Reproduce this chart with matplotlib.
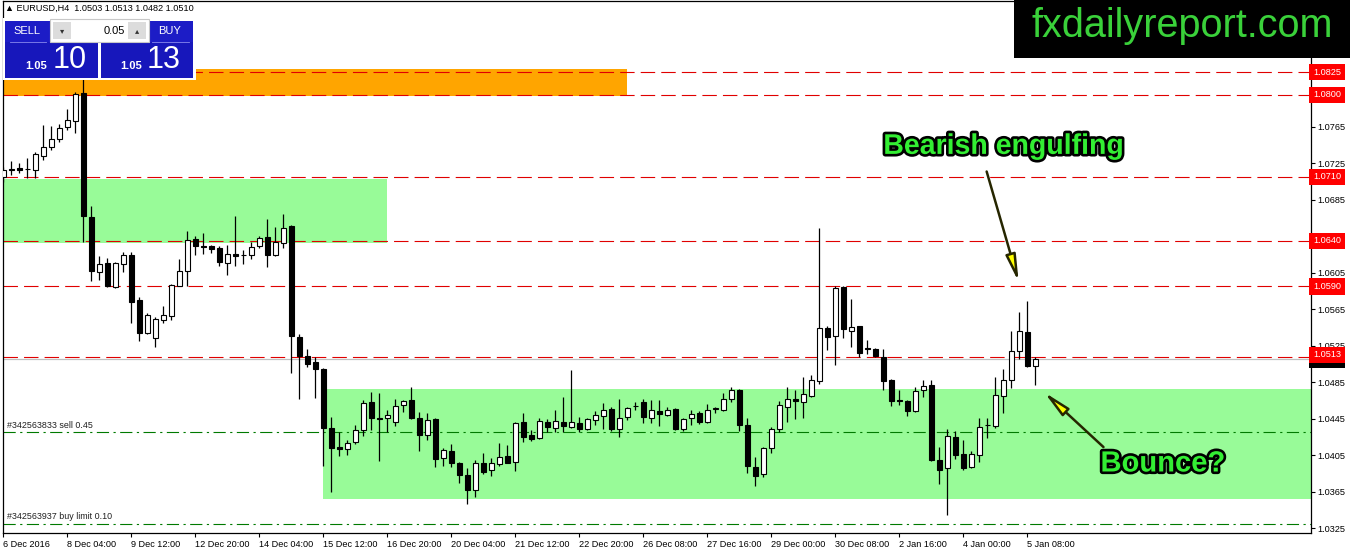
import matplotlib
matplotlib.use("Agg")
import matplotlib.pyplot as plt
import matplotlib.patheffects as pe
from matplotlib.patches import Rectangle

# %% data: EURUSD H4 candles (open, high, low, close)
opens = [1.0710, 1.0719, 1.0720, 1.0719, 1.0718, 1.0733, 1.0743, 1.0752, 1.0765, 1.0771,
         1.0802, 1.0666, 1.0606, 1.0616, 1.0589, 1.0615, 1.0624, 1.0575, 1.0539, 1.0533,
         1.0553, 1.0558, 1.0591, 1.0607, 1.0642, 1.0634, 1.0634, 1.0632, 1.0616, 1.0626,
         1.0625, 1.0624, 1.0634, 1.0644, 1.0624, 1.0638, 1.0656, 1.0535, 1.0514, 1.0507,
         1.0500, 1.0435, 1.0414, 1.0412, 1.0419, 1.0433, 1.0463, 1.0446, 1.0446, 1.0441,
         1.0460, 1.0466, 1.0446, 1.0427, 1.0445, 1.0402, 1.0410, 1.0396, 1.0383, 1.0367,
         1.0396, 1.0389, 1.0395, 1.0404, 1.0398, 1.0441, 1.0427, 1.0424, 1.0441, 1.0435,
         1.0441, 1.0436, 1.0440, 1.0434, 1.0444, 1.0448, 1.0456, 1.0434, 1.0447, 1.0459,
         1.0463, 1.0446, 1.0453, 1.0449, 1.0456, 1.0434, 1.0446, 1.0451, 1.0441, 1.0456,
         1.0455, 1.0467, 1.0477, 1.0438, 1.0392, 1.0384, 1.0413, 1.0434, 1.0458, 1.0467,
         1.0463, 1.0470, 1.0486, 1.0545, 1.0536, 1.0589, 1.0541, 1.0547, 1.0523, 1.0522,
         1.0513, 1.0488, 1.0466, 1.0464, 1.0453, 1.0476, 1.0482, 1.0400, 1.0391, 1.0425,
         1.0406, 1.0392, 1.0405, 1.0438, 1.0437, 1.0470, 1.0488, 1.0519, 1.0540, 1.0503]
highs = [1.0721, 1.0727, 1.0725, 1.0731, 1.0737, 1.0767, 1.0766, 1.0768, 1.0784, 1.0803,
         1.0822, 1.0678, 1.0623, 1.0621, 1.0617, 1.0628, 1.0628, 1.0578, 1.0561, 1.0557,
         1.0569, 1.0593, 1.0620, 1.0651, 1.0645, 1.0649, 1.0635, 1.0634, 1.0636, 1.0667,
         1.0630, 1.0639, 1.0645, 1.0664, 1.0655, 1.0669, 1.0657, 1.0538, 1.0522, 1.0513,
         1.0501, 1.0447, 1.0430, 1.0422, 1.0438, 1.0466, 1.0474, 1.0473, 1.0455, 1.0467,
         1.0466, 1.0480, 1.0452, 1.0451, 1.0446, 1.0413, 1.0417, 1.0398, 1.0391, 1.0400,
         1.0408, 1.0402, 1.0418, 1.0416, 1.0442, 1.0451, 1.0433, 1.0446, 1.0445, 1.0455,
         1.0469, 1.0499, 1.0447, 1.0446, 1.0454, 1.0462, 1.0458, 1.0467, 1.0458, 1.0463,
         1.0467, 1.0466, 1.0466, 1.0458, 1.0457, 1.0446, 1.0455, 1.0453, 1.0461, 1.0458,
         1.0473, 1.0480, 1.0478, 1.0446, 1.0403, 1.0414, 1.0436, 1.0464, 1.0480, 1.0476,
         1.0491, 1.0493, 1.0654, 1.0547, 1.0591, 1.0590, 1.0576, 1.0547, 1.0531, 1.0523,
         1.0522, 1.0489, 1.0477, 1.0466, 1.0480, 1.0487, 1.0488, 1.0414, 1.0434, 1.0432,
         1.0422, 1.0410, 1.0446, 1.0446, 1.0491, 1.0500, 1.0541, 1.0562, 1.0574, 1.0513]
lows = [1.0704, 1.0712, 1.0714, 1.0709, 1.0709, 1.0729, 1.0740, 1.0748, 1.0762, 1.0758,
        1.0639, 1.0596, 1.0597, 1.0589, 1.0588, 1.0606, 1.0550, 1.0530, 1.0538, 1.0524,
        1.0550, 1.0553, 1.0590, 1.0591, 1.0624, 1.0626, 1.0627, 1.0612, 1.0603, 1.0612,
        1.0615, 1.0620, 1.0632, 1.0611, 1.0623, 1.0632, 1.0495, 1.0467, 1.0502, 1.0468,
        1.0393, 1.0365, 1.0404, 1.0405, 1.0417, 1.0426, 1.0433, 1.0399, 1.0430, 1.0437,
        1.0452, 1.0445, 1.0410, 1.0422, 1.0392, 1.0393, 1.0392, 1.0375, 1.0352, 1.0359,
        1.0385, 1.0382, 1.0393, 1.0396, 1.0388, 1.0420, 1.0421, 1.0423, 1.0431, 1.0431,
        1.0430, 1.0435, 1.0430, 1.0433, 1.0438, 1.0434, 1.0432, 1.0425, 1.0444, 1.0455,
        1.0440, 1.0440, 1.0437, 1.0448, 1.0433, 1.0432, 1.0438, 1.0439, 1.0440, 1.0451,
        1.0454, 1.0463, 1.0432, 1.0386, 1.0371, 1.0381, 1.0408, 1.0430, 1.0442, 1.0445,
        1.0446, 1.0469, 1.0483, 1.0520, 1.0504, 1.0533, 1.0524, 1.0513, 1.0516, 1.0513,
        1.0476, 1.0459, 1.0460, 1.0448, 1.0452, 1.0469, 1.0399, 1.0374, 1.0339, 1.0401,
        1.0389, 1.0391, 1.0398, 1.0424, 1.0435, 1.0451, 1.0479, 1.0510, 1.0502, 1.0482]
closes = [1.0718, 1.0718, 1.0718, 1.0719, 1.0735, 1.0743, 1.0752, 1.0764, 1.0772, 1.0801,
          1.0667, 1.0607, 1.0615, 1.0590, 1.0616, 1.0625, 1.0573, 1.0539, 1.0559, 1.0554,
          1.0559, 1.0592, 1.0607, 1.0641, 1.0634, 1.0633, 1.0631, 1.0617, 1.0626, 1.0623,
          1.0625, 1.0633, 1.0643, 1.0625, 1.0639, 1.0654, 1.0536, 1.0514, 1.0505, 1.0500,
          1.0435, 1.0413, 1.0412, 1.0418, 1.0433, 1.0462, 1.0446, 1.0445, 1.0449, 1.0459,
          1.0465, 1.0446, 1.0427, 1.0444, 1.0401, 1.0411, 1.0396, 1.0383, 1.0367, 1.0397,
          1.0387, 1.0396, 1.0403, 1.0397, 1.0440, 1.0425, 1.0423, 1.0443, 1.0436, 1.0443,
          1.0437, 1.0441, 1.0434, 1.0445, 1.0449, 1.0455, 1.0434, 1.0446, 1.0457, 1.0459,
          1.0447, 1.0455, 1.0450, 1.0455, 1.0434, 1.0445, 1.0450, 1.0442, 1.0455, 1.0457,
          1.0467, 1.0477, 1.0438, 1.0393, 1.0382, 1.0413, 1.0434, 1.0460, 1.0467, 1.0464,
          1.0472, 1.0487, 1.0544, 1.0535, 1.0588, 1.0543, 1.0546, 1.0517, 1.0521, 1.0514,
          1.0486, 1.0465, 1.0465, 1.0454, 1.0475, 1.0481, 1.0400, 1.0389, 1.0426, 1.0405,
          1.0391, 1.0406, 1.0436, 1.0438, 1.0471, 1.0488, 1.0519, 1.0541, 1.0503, 1.0510]

date_labels = ["6 Dec 2016", "8 Dec 04:00", "9 Dec 12:00", "12 Dec 20:00", "14 Dec 04:00",
               "15 Dec 12:00", "16 Dec 20:00", "20 Dec 04:00", "21 Dec 12:00", "22 Dec 20:00",
               "26 Dec 08:00", "27 Dec 16:00", "29 Dec 00:00", "30 Dec 08:00", "2 Jan 16:00",
               "4 Jan 00:00", "5 Jan 08:00"]
label_every = 8  # one date label every 8 bars

price_ticks = [1.0325, 1.0365, 1.0405, 1.0445, 1.0485, 1.0525, 1.0565, 1.0605,
               1.0645, 1.0685, 1.0725, 1.0765, 1.0805]
red_levels = [1.0825, 1.0800, 1.0710, 1.0640, 1.0590, 1.0513]
bid_price = 1.0510
orders = [(1.0430, "#342563833 sell 0.45"), (1.0330, "#342563937 buy limit 0.10")]

# zones: (first bar, last bar, low price, high price)
orange_zone = (-5, 77.96, 1.0799, 1.0828)
upper_green = (-5, 47.9, 1.0638, 1.0708)
lower_green = (40.0, 200, 1.0357, 1.0478)

# %% figure
fig = plt.figure(figsize=(13.5, 5.54), dpi=100)
ax = fig.add_axes([2.5 / 1350, 1 - 533 / 554, 1308.2 / 1350, 532 / 554])
ax.set_xlim(-0.1, 163.4)
ax.set_ylim(1.03198, 1.09029)

for (x0, x1, lo, hi), col in [(orange_zone, "#ffa500"), (upper_green, "#98fb98"),
                              (lower_green, "#98fb98")]:
    ax.add_patch(Rectangle((x0, lo), x1 - x0, hi - lo, fc=col, ec="none", zorder=0))

for lvl in red_levels:
    ax.axhline(lvl, color="#e00000", lw=0.8, ls=(0, (13, 5.5)), zorder=1)
ax.axhline(bid_price, color="#c0c0c0", lw=0.9, zorder=1)
for price, txt in orders:
    ax.axhline(price, color="#007a00", lw=0.8, ls=(0, (11, 4, 2, 4)), zorder=1)
    ax.text(4.5 / 1308.2, price + 0.0003, txt, transform=ax.get_yaxis_transform(),
            fontsize=6.4, family="Liberation Sans", color="#202020", va="bottom", zorder=2)

# candles
idx = list(range(len(opens)))
ax.vlines(idx, lows, highs, color="black", lw=0.9, zorder=3)
for i in idx:
    o, c = opens[i], closes[i]
    face = "white" if c > o else "black"
    ax.bar(i, abs(c - o), width=0.58, bottom=min(o, c), color=face,
           edgecolor="black", lw=0.8, zorder=4)

# axes look
for s in ax.spines.values():
    s.set_color("black")
    s.set_linewidth(0.9)
ax.yaxis.tick_right()
ax.set_yticks(price_ticks)
ax.set_yticklabels([f"{v:.4f}" for v in price_ticks])
ax.set_xticks([k * label_every for k in range(len(date_labels))])
ax.set_xticklabels(date_labels)
for lab in ax.get_xticklabels():
    lab.set_ha("left")
ax.tick_params(axis="both", direction="out", length=3, width=0.8, labelsize=6.6, pad=2)
for lab in ax.get_xticklabels() + ax.get_yticklabels():
    lab.set_family("Liberation Sans")

# price labels on the right axis
ytr = ax.get_yaxis_transform()
ax.text(1.0018, bid_price, f"{bid_price:.4f}", transform=ytr, fontsize=6.6,
        family="Liberation Sans", color="white", va="center", ha="left", zorder=9,
        bbox=dict(boxstyle="square,pad=0.4", fc="black", ec="none"), clip_on=False)
for lvl in red_levels:
    ax.text(1.0018, lvl + (0.0002 if lvl == 1.0513 else 0), f"{lvl:.4f}", transform=ytr,
            fontsize=6.6, family="Liberation Sans", color="white", va="center", ha="left",
            zorder=10, bbox=dict(boxstyle="square,pad=0.4", fc="#ff0000", ec="none"),
            clip_on=False)

# annotations
outline = [pe.withStroke(linewidth=3.8, foreground="black")]
ax.text(125.0, 1.0743, "Bearish engulfing", fontsize=20.5, weight="bold",
        family="Liberation Sans", color="#33ee33", ha="center", va="center",
        path_effects=outline, zorder=12)
ax.text(144.9, 1.0396, "Bounce?", fontsize=21, weight="bold", family="Liberation Sans",
        color="#33ee33", ha="center", va="center", path_effects=outline, zorder=12)
arrow = dict(arrowstyle="-|>,head_length=1.6,head_width=0.3", fc="#ffff00",
             ec="#262600", lw=1.8, shrinkA=0, shrinkB=0)
ax.annotate("", xy=(126.9, 1.0595), xytext=(122.9, 1.0716), arrowprops=arrow, zorder=11)
ax.annotate("", xy=(130.1, 1.0474), xytext=(137.5, 1.0414), arrowprops=arrow, zorder=11)

# %% overlay in pixel coordinates: header, trade panel, logo
ov = fig.add_axes([0, 0, 1, 1])
ov.set_xlim(0, 1350)
ov.set_ylim(554, 0)
ov.axis("off")
ov.patch.set_alpha(0)
ov.set_zorder(5)

ov.text(5, 8, "\u25b2 EURUSD,H4  1.0503 1.0513 1.0482 1.0510", fontsize=6.6,
        family=["Liberation Sans", "DejaVu Sans"], va="center", ha="left", color="black")

blue = "#1c1cc6"
ov.add_patch(Rectangle((3, 18), 193, 62, fc="white", ec="none"))
ov.add_patch(Rectangle((5, 21), 93, 57, fc=blue, ec="none"))
ov.add_patch(Rectangle((101, 21), 92, 57, fc=blue, ec="none"))
ov.add_patch(Rectangle((5, 42), 93, 36, fc="#1010a8", ec="none", alpha=0.35))
ov.add_patch(Rectangle((101, 42), 92, 36, fc="#1010a8", ec="none", alpha=0.35))
ov.plot([10, 46], [41.5, 41.5], color="#8888ee", lw=0.6)
ov.plot([152, 189], [41.5, 41.5], color="#8888ee", lw=0.6)
ov.add_patch(Rectangle((50, 19), 99, 23, fc="white", ec="#c8c8c8", lw=0.8))
ov.add_patch(Rectangle((53, 22), 18, 17, fc="#dcdcdc", ec="none"))
ov.add_patch(Rectangle((128, 22), 18, 17, fc="#dcdcdc", ec="none"))
ov.text(62, 30.5, "\u25be", fontsize=6, ha="center", va="center", color="#333333")
ov.text(137, 30.5, "\u25b4", fontsize=6, ha="center", va="center", color="#333333")
ov.text(125, 30.5, "0.05", fontsize=8, family="Liberation Sans", ha="right", va="center")
ov.text(27, 31, "SELL", fontsize=8, family="Liberation Sans", color="white",
        ha="center", va="center")
ov.text(170, 31, "BUY", fontsize=8, family="Liberation Sans", color="white",
        ha="center", va="center")
ov.text(36, 66, "1.05", fontsize=8, weight="bold", family="Liberation Sans",
        color="white", ha="center", va="center")
ov.text(70, 60, "10", fontsize=22, family="Liberation Sans", color="white",
        ha="center", va="center")
ov.text(131, 66, "1.05", fontsize=8, weight="bold", family="Liberation Sans",
        color="white", ha="center", va="center")
ov.text(164, 60, "13", fontsize=22, family="Liberation Sans", color="white",
        ha="center", va="center")

ov.add_patch(Rectangle((1014, 0), 336, 58, fc="black", ec="none"))
ov.text(1182, 37, "fxdailyreport.com", fontsize=28.5, family="Liberation Sans",
        color="#3ad13a", ha="center", va="baseline")

fig.savefig("out.png", dpi=100)
